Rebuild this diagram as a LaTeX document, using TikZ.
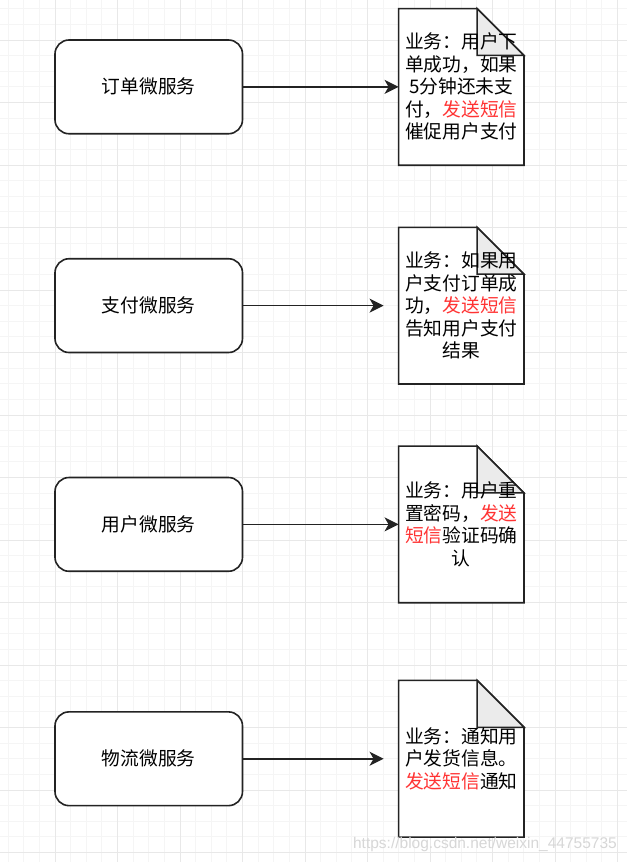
\documentclass[tikz,border=0pt]{standalone}
\usepackage{fontspec}
\newfontfamily\cjk{Noto Sans CJK SC}
\newfontfamily\wmfont{Liberation Sans}
\usetikzlibrary{arrows.meta}
\definecolor{gridminor}{RGB}{245,245,245}
\definecolor{gridmajor}{RGB}{232,232,232}
\definecolor{linecol}{RGB}{35,35,35}
\definecolor{foldgray}{RGB}{235,235,235}
\definecolor{smsred}{RGB}{255,51,51}
\definecolor{wmark}{RGB}{215,215,215}
\pgfdeclarelayer{gridlayer}
\pgfdeclarelayer{shapelayer}
\pgfsetlayers{gridlayer,shapelayer,main}
\begin{document}
\begin{tikzpicture}[x=1pt,y=-1pt,
  svc/.style={draw=linecol, line width=1.6pt, rounded corners=14pt, fill=white,
    minimum width=187.5pt, minimum height=93.75pt, inner sep=0pt,
    font=\cjk\fontsize{18.75}{22.5}\selectfont},
  docnode/.style={rectangle, minimum width=125pt, minimum height=156.25pt, inner sep=0pt,
    align=center, font=\cjk\fontsize{18.75}{22.5}\selectfont},
  docline/.style={draw=linecol, line width=1.6pt, line join=miter},
  conn/.style={draw=linecol, line width=1.6pt, -{Stealth[length=14pt,width=14pt,inset=4pt]}},
  gapped/.style={shorten >=15pt},
  wm/.style={font=\wmfont\fontsize{15.5}{18}\selectfont, text=wmark, inner sep=0pt}
]
\useasboundingbox (0,0) rectangle (627,862);
\begin{pgfonlayer}{gridlayer}
  \fill[white] (0,0) rectangle (627,862);
  \foreach \k in {0,...,39} {
    \pgfmathsetmacro\xx{8.125+15.625*\k}
    \draw[gridminor, line width=0.8pt] (\xx,0) -- (\xx,862);
  }
  \foreach \k in {0,...,54} {
    \pgfmathsetmacro\yy{8.75+15.625*\k}
    \draw[gridminor, line width=0.8pt] (0,\yy) -- (627,\yy);
  }
  \foreach \k in {0,...,9} {
    \pgfmathsetmacro\xx{55+62.5*\k}
    \draw[gridmajor, line width=0.8pt] (\xx,0) -- (\xx,862);
  }
  \foreach \k in {0,...,13} {
    \pgfmathsetmacro\yy{40+62.5*\k}
    \draw[gridmajor, line width=0.8pt] (0,\yy) -- (627,\yy);
  }
\end{pgfonlayer}

\node[svc] (s1) at (148.75,86.875) {订单微服务};
\node[svc] (s2) at (148.75,305.625) {支付微服务};
\node[svc] (s3) at (148.75,524.375) {用户微服务};
\node[svc] (s4) at (148.75,758.75) {物流微服务};

\node[docnode] (d1) at (461.25,86.875) {业务：用户下\\单成功，如果\\5分钟还未支\\付，{\color{smsred}发送短信}\\催促用户支付};
\node[docnode] (d2) at (461.25,305.625) {业务：如果用\\户支付订单成\\功，{\color{smsred}发送短信}\\告知用户支付\\结果};
\node[docnode] (d3) at (461.25,524.375) {业务：用户重\\置密码，{\color{smsred}发送}\\{\color{smsred}短信}验证码确\\认};
\node[docnode] (d4) at (461.25,758.75) {业务：通知用\\户发货信息。\\{\color{smsred}发送短信}通知};

\begin{pgfonlayer}{shapelayer}
  \foreach \n in {d1,d2,d3,d4} {
    \draw[docline, fill=white] (\n.north west) -- ([xshift=-46.875pt]\n.north east)
      -- ([yshift=-46.875pt]\n.north east) -- (\n.south east) -- (\n.south west) -- cycle;
    \draw[docline, fill=foldgray] ([xshift=-46.875pt]\n.north east)
      -- ([xshift=-46.875pt,yshift=-46.875pt]\n.north east)
      -- ([yshift=-46.875pt]\n.north east) -- cycle;
  }
\end{pgfonlayer}

\draw[conn] (s1) -- (d1);
\draw[conn, gapped] (s2) -- (d2);
\draw[conn] (s3) -- (d3);
\draw[conn, gapped] (s4) -- (d4);

\node[wm, anchor=base east] (wmk) at (617,848) {https://blog.csdn.net/weixin\_44755735};
\end{tikzpicture}
\end{document}
